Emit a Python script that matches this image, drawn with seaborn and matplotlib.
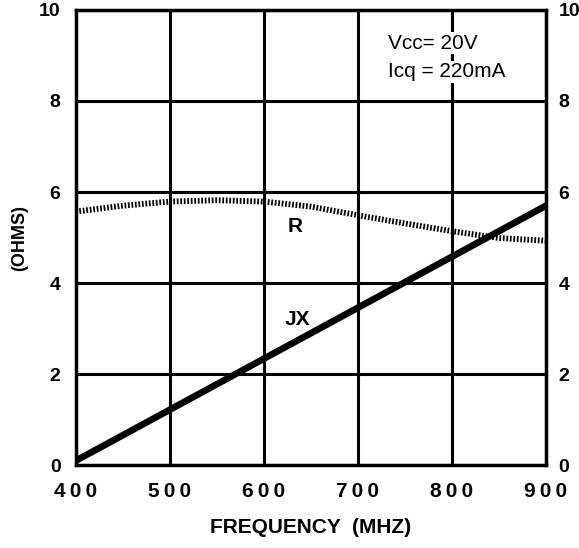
import matplotlib
matplotlib.use("Agg")
import matplotlib.pyplot as plt
import seaborn as sns
import pandas as pd

# values
freq_r = [400, 450, 500, 550, 600, 650, 700, 750, 800, 850, 900]
r_ohms = [5.57, 5.70, 5.79, 5.82, 5.79, 5.68, 5.49, 5.31, 5.14, 4.99, 4.93]
freq_x = [400, 900]
jx_ohms = [0.1, 5.7]
x_ticks = [400, 500, 600, 700, 800, 900]
y_ticks = [0, 2, 4, 6, 8, 10]

sns.set_theme(style="white")
plt.rcParams["font.family"] = ["Liberation Sans", "DejaVu Sans"]
plt.rcParams["font.weight"] = "bold"
plt.rcParams["text.color"] = "black"
plt.rcParams["axes.labelcolor"] = "black"
plt.rcParams["xtick.color"] = "black"
plt.rcParams["ytick.color"] = "black"

fig = plt.figure(figsize=(5.79, 5.48), dpi=100)
ax = fig.add_axes([0.131, 0.151, 0.812, 0.831])

dfr = pd.DataFrame({"f": freq_r, "ohms": r_ohms})
dfx = pd.DataFrame({"f": freq_x, "ohms": jx_ohms})

sns.lineplot(data=dfr, x="f", y="ohms", ax=ax, color="black", lw=4.2,
             linestyle=(0, (0.3, 0.3)), zorder=4)
sns.lineplot(data=dfx, x="f", y="ohms", ax=ax, color="black", lw=4.8, zorder=5)

ax.set_xlim(400, 900)
ax.set_ylim(0, 10)
ax.set_xticks(x_ticks)
ax.set_yticks(y_ticks)
ax.set_xticklabels(["\u2009".join(str(t)) for t in x_ticks], fontsize=15, fontweight="bold")
ax.set_yticklabels([str(t) for t in y_ticks], fontsize=14, fontweight="bold")
ax.tick_params(length=0, pad=12)
ax.tick_params(axis="y", pad=11)
ax.grid(True, color="black", lw=2.2)
ax.set_axisbelow(True)
for s in ax.spines.values():
    s.set_color("black")
    s.set_linewidth(2.5)

ax2 = ax.twinx()
ax2.set_ylim(0, 10)
ax2.set_yticks(y_ticks)
ax2.set_yticklabels([str(t) for t in y_ticks], fontsize=14, fontweight="bold")
ax2.tick_params(length=0, pad=9)
ax2.grid(False)
for s in ax2.spines.values():
    s.set_visible(False)

ax.set_xlabel("FREQUENCY  (MHZ)", fontsize=15, fontweight="bold", labelpad=12)
ax.set_ylabel("(OHMS)", fontsize=13, fontweight="bold", labelpad=8)

ax.text(633, 5.25, "R", fontsize=15, fontweight="bold", ha="center", va="center")
ax.text(636, 3.2, "JX", fontsize=15, fontweight="bold", ha="center", va="center")
ax.text(732, 9.27, "Vcc= 20V", fontsize=15, ha="left", va="center", fontweight="normal",
        bbox=dict(facecolor="white", edgecolor="none", pad=1))
ax.text(732, 8.64, "Icq = 220mA", fontsize=15, ha="left", va="center", fontweight="normal",
        bbox=dict(facecolor="white", edgecolor="none", pad=1))

fig.savefig("out.png", dpi=100)
